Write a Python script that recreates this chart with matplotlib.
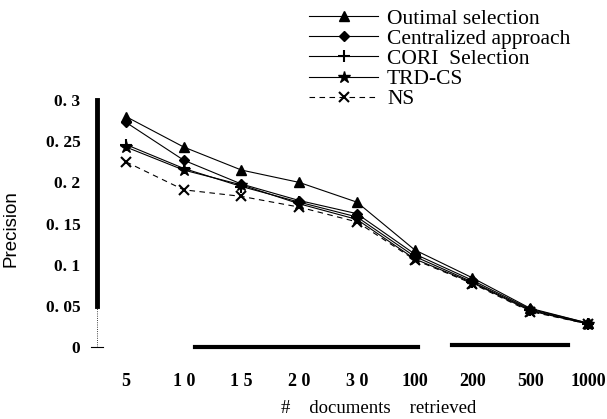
import matplotlib
matplotlib.use('Agg')
import matplotlib.pyplot as plt

# values
docs = ['5', '1 0', '1 5', '2 0', '3 0', '100', '200', '500', '1000']
optimal = [0.280, 0.243, 0.215, 0.200, 0.176, 0.118, 0.084, 0.047, 0.029]
central = [0.273, 0.227, 0.198, 0.178, 0.162, 0.113, 0.081, 0.046, 0.029]
cori = [0.246, 0.217, 0.195, 0.176, 0.158, 0.110, 0.079, 0.045, 0.028]
trdcs = [0.243, 0.215, 0.197, 0.174, 0.155, 0.107, 0.078, 0.044, 0.028]
ns = [0.225, 0.191, 0.183, 0.170, 0.152, 0.106, 0.077, 0.043, 0.028]
yticks = [0, 0.05, 0.1, 0.15, 0.2, 0.25, 0.3]
ytick_labels = ['0', '0. 05', '0. 1', '0. 15', '0. 2', '0. 25', '0. 3']

serif = ['Liberation Serif', 'DejaVu Serif']

fig = plt.figure(figsize=(6.07, 4.19), dpi=100)
ax = fig.add_axes([0.160, 0.172, 0.837, 0.589])

x = list(range(len(docs)))
ax.plot(x, optimal, color='black', lw=0.8, marker='^', ms=7, label='Outimal selection')
ax.plot(x, central, color='black', lw=0.8, marker='D', ms=5, label='Centralized approach')
ax.plot(x, cori, color='black', lw=0.8, marker='+', ms=9, mew=1.5, label='CORI  Selection')
ax.plot(x, trdcs, color='black', lw=0.8, marker='*', ms=9, label='TRD-CS')
ax.plot(x, ns, color='black', lw=0.8, ls=(0, (5, 4)), marker='x', ms=7, mew=1.5, label='NS')

ax.set_xlim(-0.5, 8.3)
ax.set_ylim(0, 0.3)
for s in ['top', 'right', 'bottom', 'left']:
    ax.spines[s].set_visible(False)

# scan-like axis remnants
ax.plot([0, 0], [0.05 / 0.3, 1.0], transform=ax.transAxes, color='black', lw=3.5, clip_on=False)
ax.plot([0, 0], [0, 0.05 / 0.3], transform=ax.transAxes, color='black', lw=0.6, ls=':', clip_on=False)
ax.plot([-0.012, 0.012], [0, 0], transform=ax.transAxes, color='black', lw=0.8, clip_on=False)
ax.plot([0.193, 0.632], [0, 0], transform=ax.transAxes, color='black', lw=3, clip_on=False)
ax.plot([0.699, 0.927], [0.008, 0.008], transform=ax.transAxes, color='black', lw=3, clip_on=False)

ax.set_xticks(x)
ax.set_xticklabels(docs, family=serif, fontweight='bold', fontsize=13)
ax.set_yticks(yticks)
ax.set_yticklabels(ytick_labels, family=serif, fontweight='bold', fontsize=12.5)
ax.tick_params(axis='both', length=0)
ax.tick_params(axis='x', pad=19)
ax.tick_params(axis='y', pad=12)

ax.set_xlabel('#    documents    retrieved', family=serif, fontsize=13.5)
ax.xaxis.set_label_coords(0.555, -0.215)
ax.set_ylabel('Precision', family=['Liberation Sans', 'DejaVu Sans'], fontsize=13.5)
ax.yaxis.set_label_coords(-0.152, 0.48)

fig.legend(loc='upper left', bbox_to_anchor=(0.485, 1.015), frameon=False,
           prop={'family': serif, 'size': 15.5}, labelspacing=0.0,
           handlelength=3.2, handletextpad=0.4, borderpad=0.2)

fig.savefig('out.png', dpi=100)
